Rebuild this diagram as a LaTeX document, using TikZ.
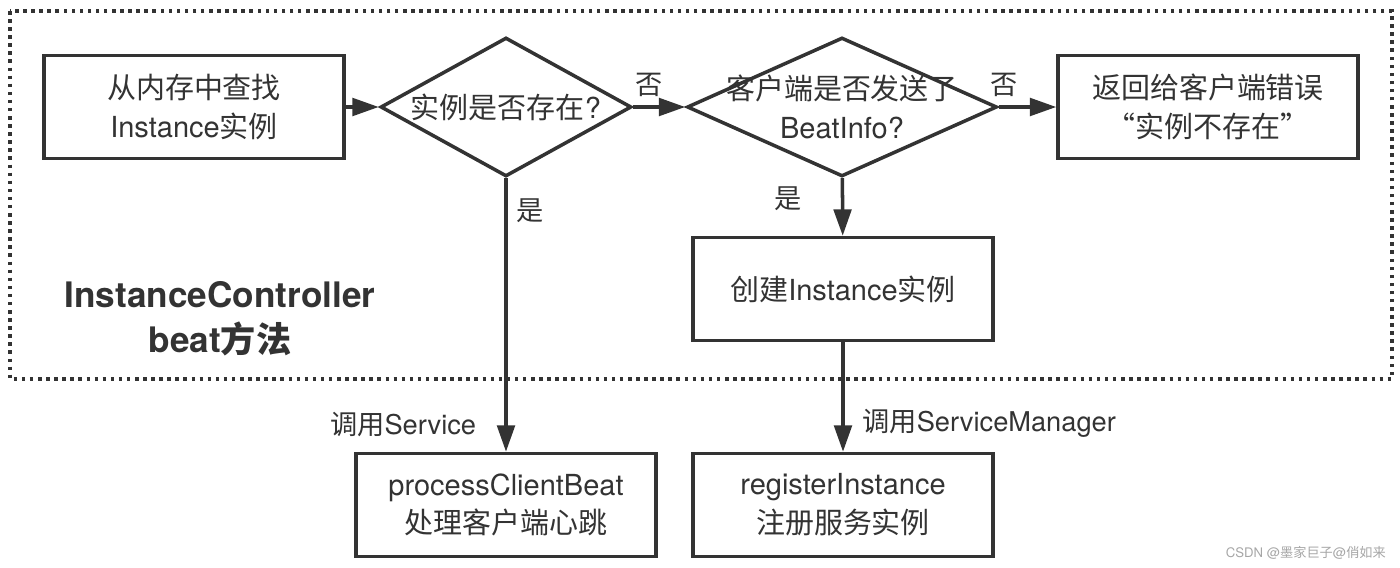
\documentclass[tikz,border=0pt]{standalone}
\usepackage{fontspec}
\setmainfont{TeX Gyre Heros}
\newfontfamily\zhfont{Noto Sans CJK SC}
% Chinese characters switch to the CJK font on their own
\XeTeXinterchartokenstate=1
\newXeTeXintercharclass\zhclass
\count255="4E00
\loop
  \XeTeXcharclass\count255=\zhclass
  \advance\count255 by 1
\ifnum\count255<"A000 \repeat
\XeTeXcharclass"201C=\zhclass
\XeTeXcharclass"201D=\zhclass
\XeTeXinterchartoks 0 \zhclass = {\begingroup\zhfont}
\XeTeXinterchartoks 4095 \zhclass = {\begingroup\zhfont}
\XeTeXinterchartoks \zhclass 0 = {\endgroup}
\XeTeXinterchartoks \zhclass 4095 = {\endgroup}
\usepackage{tikz}
\usetikzlibrary{positioning}
\usetikzlibrary{shapes.geometric}
\usetikzlibrary{arrows.meta}
\definecolor{inkgray}{HTML}{333333}

\begin{document}
\begin{tikzpicture}[
  x=0.02cm, y=-0.02cm,
  font=\fontsize{16.5}{22}\selectfont,
  % --- styles ---
  frame/.style={draw=inkgray, line width=2pt, dash pattern=on 2pt off 2.6pt},
  proc/.style={
    draw=inkgray, line width=2pt, text=inkgray, align=center,
    minimum width=6cm, minimum height=2.06cm, inner sep=4pt
  },
  decision/.style={
    diamond, draw=inkgray, line width=2pt, text=inkgray, align=center,
    minimum height=2.78cm, inner xsep=-3cm, inner ysep=-1cm
  },
  arrow/.style={-{Triangle[length=15pt, width=10pt]}, line width=2pt, draw=inkgray},
  lab/.style={text=inkgray, font=\fontsize{15.5}{18}\selectfont, inner sep=5pt},
  title/.style={text=inkgray, font=\fontsize{20}{25.6}\selectfont\bfseries, align=center}
]
\useasboundingbox (0,0) rectangle (1400,568);

% ======================================================
% Controller frame
% ======================================================
\draw[frame] (10,11) rectangle (1392,379);
\node[title] (ctrl) at (220,319) {InstanceController\\beat方法};

% ======================================================
% Top row
% ======================================================
\node[proc]                          (find)   at (194,107)  {从内存中查找\\Instance实例};
\node[decision, minimum width=5.02cm] (exists) at (506,107)  {实例是否存在?};
\node[decision, minimum width=6.2cm]  (sent)   at (842,107)  {客户端是否发送了\\BeatInfo?};
\node[proc]                          (err)    at (1208,107) {返回给客户端错误\\“实例不存在”};

% ======================================================
% Lower boxes
% ======================================================
\node[proc] (create)   at (843,289) {创建Instance实例};
\node[proc] (process)  at (506,505) {processClientBeat\\处理客户端心跳};
\node[proc] (register) at (843,505) {registerInstance\\注册服务实例};

% ======================================================
% Flow
% ======================================================
\draw[arrow] (find) -- (exists);
\draw[arrow] (exists) -- node[lab, above, pos=0.3] {否} (sent);
\draw[arrow] (sent) -- node[lab, above, pos=0.1] {否} (err);
\draw[arrow] (exists) -- node[lab, right, pos=0.12] {是}
                         node[lab, left, pos=0.9, xshift=-11pt] {调用Service} (process);
\draw[arrow] (sent) -- node[lab, left, pos=0.36, xshift=-17pt] {是} (create);
\draw[arrow] (create) -- node[lab, right, pos=0.74, xshift=5pt] {调用ServiceManager} (register);

% watermark
\node[text=gray!70, font=\fontsize{7.5}{9}\selectfont, anchor=east] (mark) at (1392,553) {CSDN @墨家巨子@俏如来};

\end{tikzpicture}
\end{document}
